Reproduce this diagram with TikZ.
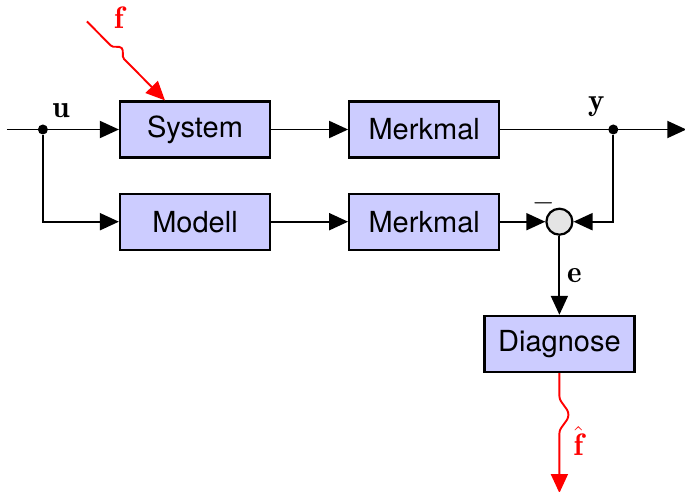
\documentclass[tikz,border=0pt]{standalone}
\usepackage{fontspec}
\newfontfamily\blockfont{TeX Gyre Heros}
\usepackage{tikz}
\usetikzlibrary{positioning, arrows.meta, decorations.pathmorphing}
\tikzstyle{block} = [rectangle, minimum width=75pt, minimum height=28pt, text centered, draw=black, line width=1.1pt, fill=blue!20, font=\blockfont\fontsize{14.5}{17}\selectfont]
\tikzstyle{sumpoint} = [circle, minimum size=13pt, inner sep=0pt, draw=black, line width=1.1pt, fill=black!10]
\tikzstyle{junction} = [circle, fill=black, inner sep=0pt, minimum size=5pt]
\tikzstyle{arrow} = [line width=0.95pt, -{Triangle[length=9.5pt,width=8.5pt]}]
\tikzstyle{fault} = [arrow, red, decorate]
\tikzstyle{signal} = [font=\fontsize{15.5}{18}\selectfont]

\begin{document}
\begin{tikzpicture}[node distance=38.5pt]
    \useasboundingbox (-97.5pt,-181.25pt) rectangle (245pt,64.75pt);

    \node (system) [block] {System};
    \node (merkmal-y) [block, right=of system] {Merkmal};
    \node (modell) [block, below=17pt of system] {Modell};
    \node (merkmal-m) [block, right=of modell] {Merkmal};
    \node (vergleich) [sumpoint, right=22.5pt of merkmal-m] {};
    \node (diagnose) [block, below=39.5pt of vergleich] {Diagnose};

    % Ein- und Ausgang mit Verzweigungen
    \coordinate (eingang) at ([xshift=-56pt]system.west);
    \node (u-punkt) [junction] at ([xshift=-38pt]system.west) {};
    \coordinate (ausgang) at ([xshift=93pt]merkmal-y.east);
    \node (y-punkt) [junction] at ([xshift=56.5pt]merkmal-y.east) {};
    \coordinate (f-start) at ([xshift=-16pt,yshift=39.5pt]system.north west);
    \coordinate (fhat-ende) at ([yshift=-60pt]diagnose.south);

    \node (u-label) [signal] at ([xshift=9pt,yshift=9.5pt]u-punkt) {$\mathbf{u}$};
    \node (y-label) [signal] at ([xshift=-8.5pt,yshift=11.5pt]y-punkt) {$\mathbf{y}$};
    \node (minus) [signal] at ([xshift=-8pt,yshift=9pt]vergleich.center) {$-$};
    \node (f-label) [signal, red] at ([yshift=41.5pt]system.north west) {$\mathbf{f}$};
    \node (fhat-label) [signal, red] at ([xshift=9.5pt,yshift=-34pt]diagnose.south) {$\hat{\mathbf{f}}$};

    \draw [arrow] (eingang) -- (system);
    \draw [arrow] (u-punkt) |- (modell);
    \draw [arrow] (system) -- (merkmal-y);
    \draw [arrow] (modell) -- (merkmal-m);
    \draw [arrow] (merkmal-y) -- (ausgang);
    \draw [arrow] (merkmal-m) -- (vergleich);
    \draw [arrow] (y-punkt) |- (vergleich);
    \draw [arrow] (vergleich) -- node[signal, right] {$\mathbf{e}$} (diagnose);

    % Fehler und Fehlerschaetzung
    \draw [fault, decoration={snake, segment length=15pt, amplitude=3pt, pre length=17pt, post length=23pt}] (f-start) -- ([xshift=-15pt]system.north);
    \draw [fault, decoration={snake, segment length=30pt, amplitude=4.5pt, pre length=11.5pt, post length=18.5pt}] (diagnose) -- (fhat-ende);
\end{tikzpicture}
\end{document}
